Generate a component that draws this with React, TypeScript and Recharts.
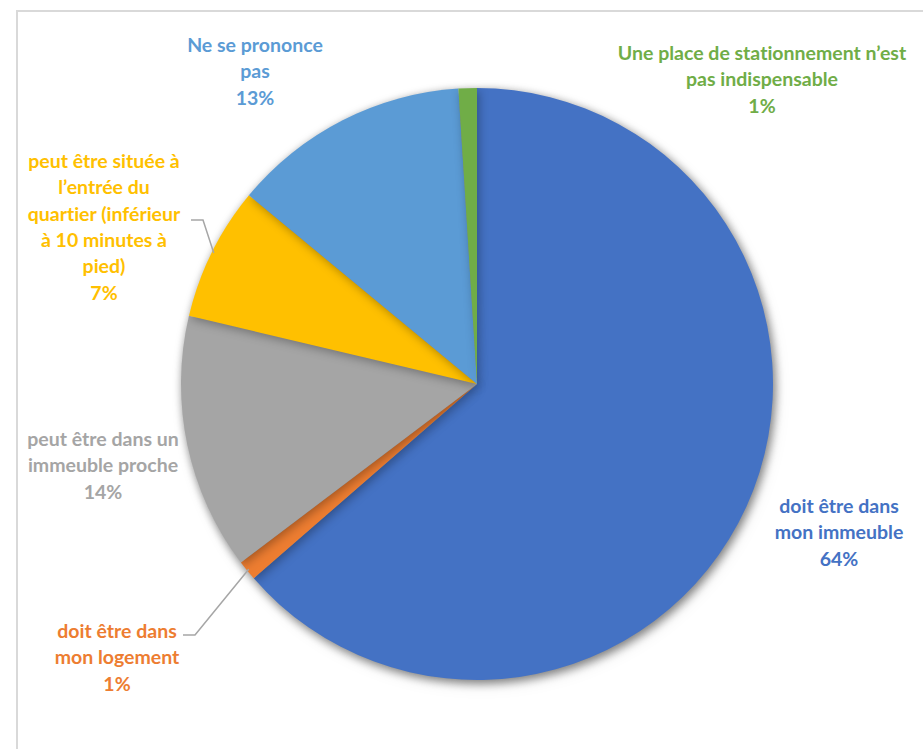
import React from "react";
import { PieChart, Pie, Cell } from "recharts";

// slices, clockwise from 12 o'clock
const categories = [
  "doit être dans mon immeuble",
  "doit être dans mon logement",
  "peut être dans un immeuble proche",
  "peut être située à l’entrée du quartier (inférieur à 10 minutes à pied)",
  "Ne se prononce pas",
  "Une place de stationnement n’est pas indispensable",
];
const values = [63.6, 1.1, 14.0, 7.3, 13.0, 1.0];
const percentLabels = ["64%", "1%", "14%", "7%", "13%", "1%"];
const labelLines = [
  ["doit être dans", "mon immeuble"],
  ["doit être dans", "mon logement"],
  ["peut être dans un", "immeuble proche"],
  ["peut être située à", "l’entrée du", "quartier (inférieur", "à 10 minutes à", "pied)"],
  ["Ne se prononce", "pas"],
  ["Une place de stationnement n’est", "pas indispensable"],
];
const colors = ["#4472C4", "#ED7D31", "#A5A5A5", "#FFC000", "#5B9BD5", "#70AD47"];

const data = categories.map((name, i) => ({ name, value: values[i] }));

// label placement, relative to the pie centre
const labelLayout: { dx: number; dy: number; leaderDx?: number; leaderDy?: number }[] = [
  { dx: 362, dy: 121 },
  { dx: -360, dy: 246, leaderDx: -294, leaderDy: 251 },
  { dx: -374, dy: 54 },
  { dx: -373, dy: -224, leaderDx: -286, leaderDy: -164 },
  { dx: -222, dy: -340 },
  { dx: 285, dy: -332 },
];
const LINE_H = 26.3;
const RADIAN = Math.PI / 180;

function renderLabel(props: any) {
  const { cx, cy, midAngle, outerRadius, index } = props;
  const lay = labelLayout[index];
  const lines = [...labelLines[index], percentLabels[index]];
  const x = cx + lay.dx;
  const y0 = cy + lay.dy;

  let leader = null;
  if (lay.leaderDx !== undefined && lay.leaderDy !== undefined) {
    const ex = cx + (outerRadius - 2) * Math.cos(-midAngle * RADIAN);
    const ey = cy + (outerRadius - 2) * Math.sin(-midAngle * RADIAN);
    const sx = cx + lay.leaderDx;
    const sy = cy + lay.leaderDy;
    leader = (
      <polyline
        points={`${sx},${sy} ${sx + 12},${sy} ${ex},${ey}`}
        fill="none"
        stroke="#A6A6A6"
        strokeWidth={1.5}
      />
    );
  }

  return (
    <g>
      {leader}
      <text
        textAnchor="middle"
        dominantBaseline="central"
        fill={colors[index]}
        style={{
          fontFamily: "Lato, 'Open Sans', sans-serif",
          fontWeight: 700,
          fontSize: 19.5,
          fontVariantLigatures: "none",
        }}
      >
        {lines.map((line, i) => (
          <tspan key={i} x={x} y={y0 + i * LINE_H}>
            {line}
          </tspan>
        ))}
      </text>
    </g>
  );
}

export default function App() {
  return (
    <div
      style={{
        position: "absolute",
        left: 0,
        top: 0,
        width: 923,
        height: 749,
        background: "#fff",
        overflow: "hidden",
      }}
    >
      <style>{`.pie-shade { filter: drop-shadow(2px 3px 5px rgba(0,0,0,0.3)); }`}</style>
      {/* chart area frame, only top and left edges are visible */}
      <div
        style={{
          position: "absolute",
          left: 16,
          top: 10,
          width: 1000,
          height: 1000,
          borderLeft: "2px solid #D9D9D9",
          borderTop: "2px solid #D9D9D9",
        }}
      />
      <div style={{ position: "absolute", left: 0, top: 0 }}>
        <PieChart width={923} height={749} margin={{ top: 0, right: 0, bottom: 0, left: 0 }}>
          {/* shaded pie */}
          <Pie
            className="pie-shade"
            data={data}
            dataKey="value"
            cx={477}
            cy={384}
            outerRadius={296}
            startAngle={90}
            endAngle={-270}
            stroke="none"
            label={false}
            labelLine={false}
            isAnimationActive={false}
          >
            {data.map((_, i) => (
              <Cell key={`cell-${i}`} fill={colors[i]} />
            ))}
          </Pie>
          {/* same pie, transparent, carrying the labels */}
          <Pie
            data={data}
            dataKey="value"
            cx={477}
            cy={384}
            outerRadius={296}
            startAngle={90}
            endAngle={-270}
            stroke="none"
            fill="transparent"
            label={renderLabel}
            labelLine={false}
            isAnimationActive={false}
          >
            {data.map((_, i) => (
              <Cell key={`lbl-${i}`} fill="transparent" />
            ))}
          </Pie>
        </PieChart>
      </div>
    </div>
  );
}
